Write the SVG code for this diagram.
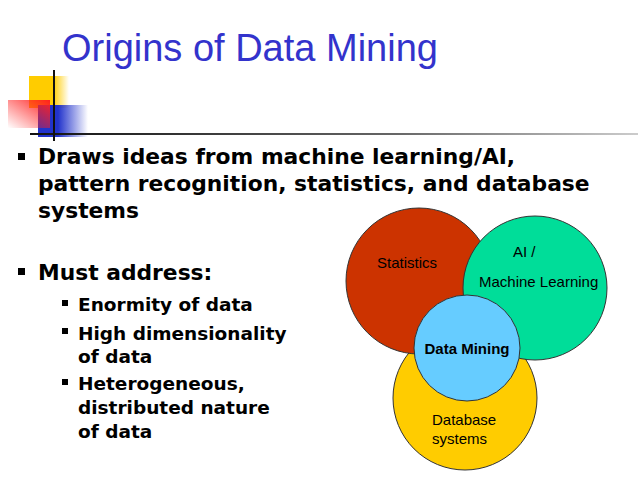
<svg xmlns="http://www.w3.org/2000/svg" width="638" height="478" viewBox="0 0 638 478">
<style>
.b{font-family:"DejaVu Sans",Verdana,sans-serif;font-weight:bold;font-size:21.8px;fill:#000}
.s{font-family:"DejaVu Sans",Verdana,sans-serif;font-weight:bold;font-size:18.5px;fill:#000}
.l{font-family:"Liberation Sans",Arial,sans-serif;font-size:15px;fill:#000}
.c{stroke:#333;stroke-width:1}
</style>
<defs>
<linearGradient id="yg" x1="0" x2="1"><stop offset="0.6" stop-color="#ffcc00"/><stop offset="1" stop-color="#ffcc00" stop-opacity="0"/></linearGradient>
<linearGradient id="rg" x1="1" y1="0" x2="0" y2="1"><stop offset="0" stop-color="#ff2020"/><stop offset="1" stop-color="#ff2020" stop-opacity="0"/></linearGradient>
<linearGradient id="bg" x1="0" x2="1"><stop offset="0.4" stop-color="#2233cc"/><stop offset="1" stop-color="#2233cc" stop-opacity="0"/></linearGradient>
<linearGradient id="lg" gradientUnits="userSpaceOnUse" x1="30" y1="0" x2="638" y2="0"><stop offset="0" stop-color="#111"/><stop offset="0.6" stop-color="#666"/><stop offset="1" stop-color="#ccc"/></linearGradient>
</defs>
<g id="decor">
<rect x="29" y="76" width="40" height="32" fill="url(#yg)"/>
<rect x="38" y="105" width="50" height="32" fill="url(#bg)"/>
<rect x="8" y="100" width="42" height="28" fill="url(#rg)"/>
<rect x="30" y="133" width="608" height="2" fill="url(#lg)"/>
<line x1="54" y1="70" x2="54" y2="141" stroke="#111" stroke-width="2"/>
</g>
<text x="62" y="61" font-family="Liberation Sans,Arial,sans-serif" font-size="38" fill="#3333cc">Origins of Data Mining</text>
<g id="bullets">
<rect x="18" y="153" width="7" height="7" fill="#000"/>
<text class="b" x="38" y="164">Draws ideas from machine learning/AI,</text>
<text class="b" x="38" y="191">pattern recognition, statistics, and database</text>
<text class="b" x="38" y="218">systems</text>
<rect x="18" y="268" width="7" height="7" fill="#000"/>
<text class="b" x="38" y="280">Must address:</text>
<rect x="62" y="300" width="6" height="6" fill="#000"/>
<text class="s" x="78" y="311">Enormity of data</text>
<rect x="62" y="328" width="6" height="6" fill="#000"/>
<text class="s" x="78" y="340">High dimensionality</text>
<text class="s" x="78" y="363">of data</text>
<rect x="62" y="379" width="6" height="6" fill="#000"/>
<text class="s" x="78" y="390">Heterogeneous,</text>
<text class="s" x="78" y="414">distributed nature</text>
<text class="s" x="78" y="438">of data</text>
</g>
<g id="database"><circle class="c" cx="465" cy="398" r="72" fill="#ffcc00"/>
<text class="l" x="432" y="425">Database</text><text class="l" x="432" y="444">systems</text></g>
<g id="statistics"><circle class="c" cx="419" cy="281" r="73" fill="#cc3300"/>
<text class="l" x="377" y="268">Statistics</text></g>
<g id="ai"><circle class="c" cx="535" cy="288" r="72" fill="#00dd99"/>
<text class="l" x="513" y="257">AI  /</text><text class="l" x="479" y="287">Machine Learning</text></g>
<g id="datamining"><circle class="c" cx="467" cy="348" r="53" fill="#66ccff"/>
<text class="l" x="467" y="354" text-anchor="middle" font-weight="bold" font-size="14">Data Mining</text></g>
</svg>
